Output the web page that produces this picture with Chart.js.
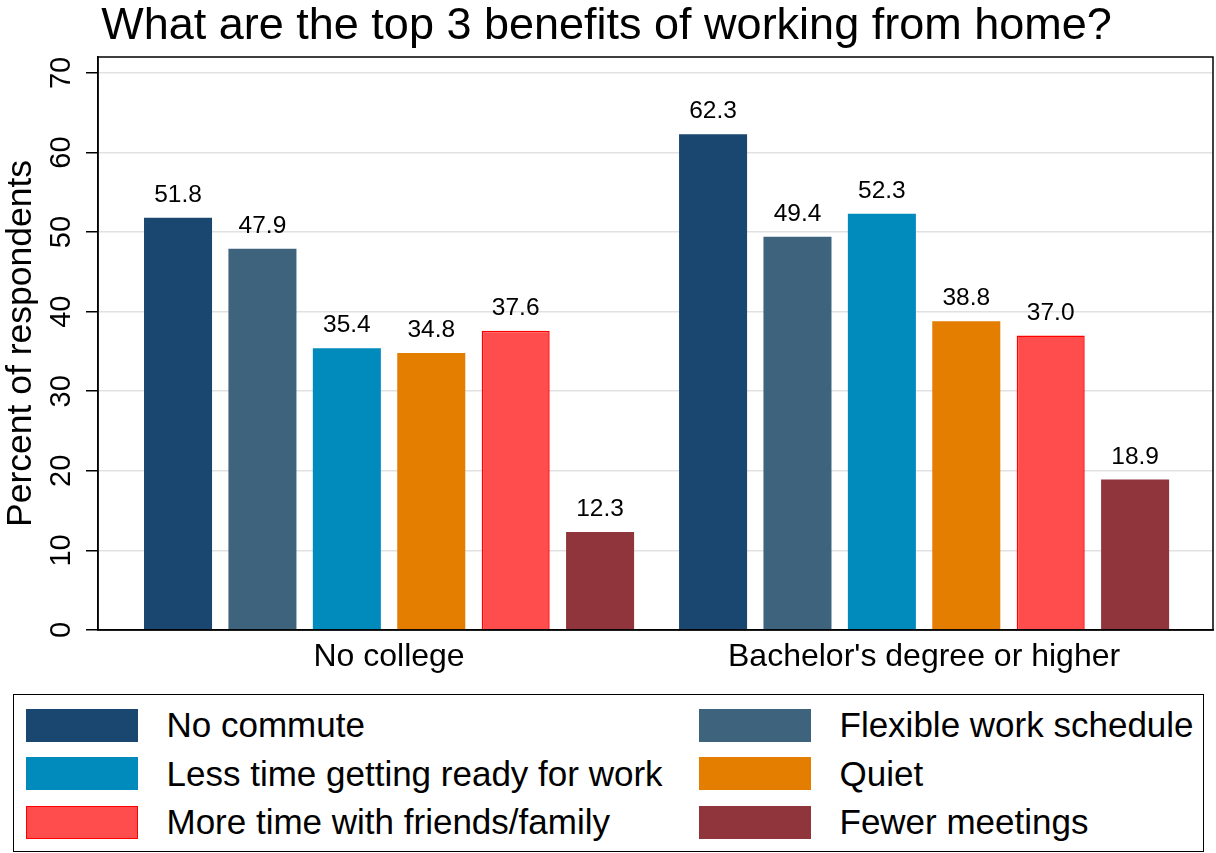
<!DOCTYPE html>
<html>
<head>
<meta charset="utf-8">
<script src="https://cdn.jsdelivr.net/npm/chart.js@4.4.0/dist/chart.umd.min.js"></script>
<style>
  body { margin: 0; background: #fff; font-family: 'Liberation Sans', Arial, sans-serif; }
  #wrap { position: relative; width: 1216px; height: 853px; }
  #legend { position: absolute; left: 13px; top: 694px; width: 1191px; height: 158px;
            box-sizing: border-box; border: 1.5px solid #000; }
  .item { position: absolute; height: 33px; display: flex; align-items: center;
          font-size: 35px; white-space: nowrap; color: #000; }
  .sw { width: 112px; height: 33px; box-sizing: border-box; margin-right: 29px; flex: none; }
</style>
</head>
<body>
<div id="wrap">
  <canvas id="myChart" width="1216" height="690"></canvas>
  <div id="legend"></div>
</div>
<script>
const categories = ["No college", "Bachelor's degree or higher"];
const seriesNames = ["No commute", "Flexible work schedule", "Less time getting ready for work",
                     "Quiet", "More time with friends/family", "Fewer meetings"];
// one array per benefit: [No college, Bachelor's]
const noCommute = [51.8, 62.3];
const flexible = [47.9, 49.4];
const lessTime = [35.4, 52.3];
const quiet = [34.8, 38.8];
const moreTime = [37.6, 37.0];
const fewerMeetings = [12.3, 18.9];
const yTicks = [0, 10, 20, 30, 40, 50, 60, 70];

const seriesValues = [noCommute, flexible, lessTime, quiet, moreTime, fewerMeetings];
const fills = ["#1a476f", "#3e637d", "#008bbc", "#e37e00", "#ff4d4d", "#90353b"];
const borders = ["#1a476f", "#3e637d", "#008bbc", "#e37e00", "#ff0000", "#90353b"];

Chart.defaults.font.family = "'Liberation Sans', Arial, sans-serif";
Chart.defaults.color = "#000";

// value labels above bars
const barLabels = {
  id: "barLabels",
  afterDatasetsDraw(chart) {
    const ctx = chart.ctx;
    ctx.save();
    ctx.font = "24.5px 'Liberation Sans', Arial, sans-serif";
    ctx.fillStyle = "#000";
    ctx.textAlign = "center";
    ctx.textBaseline = "alphabetic";
    chart.data.datasets.forEach((ds, i) => {
      chart.getDatasetMeta(i).data.forEach((bar, j) => {
        ctx.fillText(ds.data[j].y.toFixed(1), bar.x, bar.y - 16);
      });
    });
    ctx.restore();
  }
};

// box round the plot region
const frame = {
  id: "frame",
  afterDraw(chart) {
    const a = chart.chartArea;
    const ctx = chart.ctx;
    ctx.save();
    ctx.strokeStyle = "#000";
    ctx.lineWidth = 1.5;
    ctx.strokeRect(a.left, a.top, a.right - a.left, a.bottom - a.top);
    ctx.restore();
  }
};

const ctx = document.getElementById("myChart");
const chart = new Chart(ctx, {
  type: "bar",
  data: {
    datasets: seriesNames.map((name, k) => ({
      label: name,
      data: categories.map((c, i) => ({ x: i, y: seriesValues[k][i] })),
      backgroundColor: fills[k],
      borderColor: borders[k],
      borderWidth: k === 4 ? 1.5 : 0,
      categoryPercentage: 0.9466,
      barPercentage: 0.806,
    })),
  },
  options: {
    responsive: false,
    animation: false,
    devicePixelRatio: 1,
    layout: { padding: { left: 0, right: 3, top: 0, bottom: 0 } },
    plugins: {
      legend: { display: false },
      tooltip: { enabled: false },
      title: {
        display: true,
        text: "What are the top 3 benefits of working from home?",
        font: { size: 45, weight: "normal" },
        color: "#000",
        padding: { top: 0, bottom: 3 },
      },
    },
    scales: {
      x: {
        type: "linear",
        offset: false,
        min: -0.544,
        max: 1.54,
        grid: { display: false, drawTicks: false, offset: false },
        border: { display: true, color: "#000", width: 1.5 },
        afterBuildTicks: (s) => { s.ticks = categories.map((c, i) => ({ value: i })); },
        afterFit: (s) => { s.height = 60; },
        ticks: {
          padding: 8,
          font: { size: 32 },
          color: "#000",
          maxRotation: 0,
          autoSkip: false,
          callback: (v) => categories[v],
        },
      },
      y: {
        min: 0,
        max: 72,
        grid: { color: "#e1e1e1", lineWidth: 1.5, tickColor: "#000", tickLength: 12, tickWidth: 1.5 },
        border: { display: true, color: "#000", width: 1.5 },
        afterBuildTicks: (s) => { s.ticks = yTicks.map((v) => ({ value: v })); },
        afterFit: (s) => { s.width = 98; },
        ticks: {
          minRotation: 90,
          maxRotation: 90,
          crossAlign: "center",
          padding: 8,
          autoSkip: false,
          font: { size: 29 },
          color: "#000",
        },
        title: {
          display: true,
          text: "Percent of respondents",
          font: { size: 35.5 },
          color: "#000",
          padding: { top: 0, bottom: 0 },
        },
      },
    },
  },
  plugins: [barLabels, frame],
});

// legend in two columns
const legend = document.getElementById("legend");
chart.data.datasets.forEach((ds, k) => {
  const col = k % 2, row = Math.floor(k / 2);
  const item = document.createElement("div");
  item.className = "item";
  item.style.left = (col === 0 ? 11.5 : 684.5) + "px";
  item.style.top = (13.5 + row * 48.5) + "px";
  const sw = document.createElement("div");
  sw.className = "sw";
  sw.style.background = ds.backgroundColor;
  if (ds.borderWidth) sw.style.border = "1.5px solid " + ds.borderColor;
  const txt = document.createElement("span");
  txt.textContent = ds.label;
  item.appendChild(sw);
  item.appendChild(txt);
  legend.appendChild(item);
});
</script>
</body>
</html>
